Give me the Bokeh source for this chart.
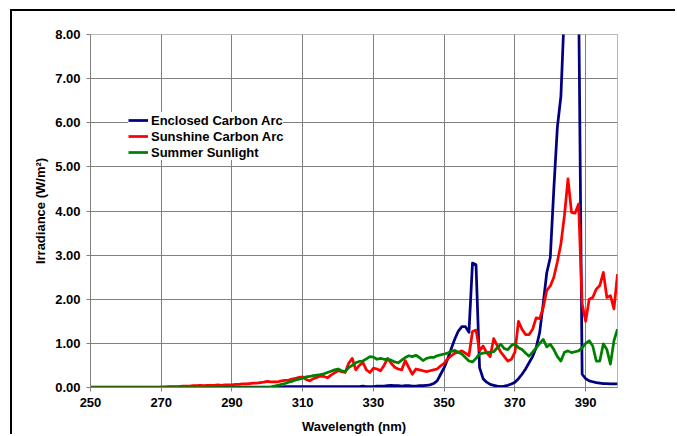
from bokeh.plotting import figure
from bokeh.models import FixedTicker, PrintfTickFormatter, Range1d, Legend, LegendItem
from bokeh.embed import file_html
from bokeh.resources import INLINE

# Spectral irradiance, W/m^2 per nm, 250-399 nm
wavelength = list(range(250, 400))

enclosed_carbon_arc = [
    0.01, 0.01, 0.01, 0.01, 0.01, 0.01, 0.01, 0.01, 0.01, 0.01,   # 250
    0.01, 0.01, 0.01, 0.01, 0.01, 0.01, 0.01, 0.01, 0.01, 0.01,   # 260
    0.01, 0.01, 0.01, 0.01, 0.01, 0.01, 0.01, 0.01, 0.01, 0.01,   # 270
    0.01, 0.01, 0.01, 0.01, 0.01, 0.01, 0.01, 0.01, 0.01, 0.01,   # 280
    0.01, 0.01, 0.01, 0.01, 0.01, 0.01, 0.01, 0.01, 0.01, 0.01,   # 290
    0.01, 0.01, 0.01, 0.01, 0.01, 0.02, 0.02, 0.02, 0.02, 0.02,   # 300
    0.02, 0.02, 0.02, 0.02, 0.02, 0.02, 0.02, 0.02, 0.02, 0.02,   # 310
    0.02, 0.02, 0.02, 0.02, 0.02, 0.02, 0.02, 0.03, 0.02, 0.02,   # 320
    0.02, 0.03, 0.03, 0.03, 0.04, 0.05, 0.04, 0.04, 0.03, 0.04,   # 330
    0.04, 0.03, 0.03, 0.04, 0.04, 0.05, 0.06, 0.09, 0.15, 0.30,   # 340
    0.45, 0.65, 0.88, 1.10, 1.28, 1.38, 1.38, 1.25, 2.82, 2.78,   # 350
    0.45, 0.20, 0.12, 0.07, 0.05, 0.03, 0.02, 0.03, 0.05, 0.08,   # 360
    0.12, 0.20, 0.30, 0.42, 0.56, 0.70, 0.90, 1.25, 1.90, 2.60,   # 370
    2.95, 4.50, 5.90, 6.60, 8.60, 10.5, 12.0, 11.0, 9.00, 0.30,   # 380
    0.20, 0.15, 0.13, 0.11, 0.10, 0.09, 0.09, 0.08, 0.08, 0.08,   # 390
]

sunshine_carbon_arc = [
    0.00, 0.00, 0.00, 0.00, 0.00, 0.00, 0.00, 0.00, 0.00, 0.00,   # 250
    0.00, 0.00, 0.00, 0.00, 0.00, 0.00, 0.00, 0.00, 0.00, 0.00,   # 260
    0.01, 0.01, 0.02, 0.02, 0.02, 0.02, 0.03, 0.03, 0.03, 0.04,   # 270
    0.04, 0.05, 0.04, 0.05, 0.05, 0.05, 0.06, 0.05, 0.06, 0.06,   # 280
    0.06, 0.07, 0.07, 0.08, 0.08, 0.09, 0.10, 0.10, 0.11, 0.12,   # 290
    0.14, 0.13, 0.13, 0.13, 0.15, 0.16, 0.17, 0.19, 0.21, 0.23,   # 300
    0.24, 0.18, 0.15, 0.20, 0.23, 0.26, 0.25, 0.22, 0.28, 0.33,   # 310
    0.38, 0.36, 0.34, 0.55, 0.66, 0.40, 0.50, 0.57, 0.40, 0.34,   # 320
    0.44, 0.42, 0.38, 0.50, 0.66, 0.55, 0.46, 0.42, 0.40, 0.61,   # 330
    0.45, 0.30, 0.42, 0.40, 0.38, 0.36, 0.38, 0.40, 0.42, 0.49,   # 340
    0.55, 0.65, 0.72, 0.78, 0.80, 0.83, 0.78, 0.72, 1.27, 1.30,   # 350
    0.83, 0.94, 0.79, 0.70, 1.11, 0.95, 0.80, 0.70, 0.60, 0.64,   # 360
    0.80, 1.50, 1.32, 1.20, 1.20, 1.32, 1.58, 1.56, 1.81, 2.20,   # 370
    2.30, 2.50, 2.85, 3.25, 3.90, 4.73, 3.97, 3.95, 4.16, 1.90,   # 380
    1.50, 2.00, 2.04, 2.23, 2.31, 2.61, 2.04, 2.08, 1.78, 2.57,   # 390
]

summer_sunlight = [
    0.00, 0.00, 0.00, 0.00, 0.00, 0.00, 0.00, 0.00, 0.00, 0.00,   # 250
    0.00, 0.00, 0.00, 0.00, 0.00, 0.00, 0.00, 0.00, 0.00, 0.00,   # 260
    0.00, 0.00, 0.00, 0.00, 0.00, 0.00, 0.00, 0.00, 0.00, 0.00,   # 270
    0.00, 0.00, 0.00, 0.00, 0.00, 0.00, 0.00, 0.00, 0.00, 0.00,   # 280
    0.00, 0.00, 0.00, 0.00, 0.00, 0.00, 0.00, 0.00, 0.00, 0.00,   # 290
    0.00, 0.01, 0.03, 0.05, 0.07, 0.09, 0.12, 0.14, 0.17, 0.19,   # 300
    0.21, 0.24, 0.25, 0.27, 0.28, 0.29, 0.31, 0.34, 0.37, 0.40,   # 310
    0.42, 0.38, 0.36, 0.45, 0.50, 0.56, 0.59, 0.60, 0.65, 0.70,   # 320
    0.69, 0.64, 0.66, 0.64, 0.64, 0.62, 0.58, 0.56, 0.62, 0.68,   # 330
    0.72, 0.70, 0.73, 0.68, 0.61, 0.66, 0.68, 0.68, 0.72, 0.74,   # 340
    0.76, 0.78, 0.82, 0.84, 0.80, 0.76, 0.68, 0.60, 0.58, 0.66,   # 350
    0.76, 0.78, 0.79, 0.80, 0.81, 0.90, 0.98, 0.88, 0.86, 0.95,   # 360
    0.99, 0.90, 0.86, 0.78, 0.71, 0.80, 0.90, 1.00, 1.09, 0.92,   # 370
    0.98, 0.86, 0.70, 0.60, 0.80, 0.83, 0.79, 0.81, 0.83, 0.90,   # 380
    1.00, 1.06, 0.94, 0.60, 0.60, 0.99, 0.86, 0.53, 1.06, 1.32,   # 390
]

series_names = ["Enclosed Carbon Arc", "Sunshine Carbon Arc", "Summer Sunlight"]
series_colors = ["#000080", "#FF0000", "#008000"]

x_ticks = [250, 270, 290, 310, 330, 350, 370, 390]
y_ticks = [0, 1, 2, 3, 4, 5, 6, 7, 8]

FONT = "Liberation Sans"
GRID = "#808080"

p = figure(
    width=665, height=425,
    output_backend="svg", toolbar_location=None,
    x_range=Range1d(250, 399), y_range=Range1d(0, 8),
    min_border_left=78, min_border_top=23,
    min_border_right=60, min_border_bottom=49,
    background_fill_color="white", border_fill_color="white",
    outline_line_color="#b8b8b8",
)

# outer chart frame (left and top edges show in the window)
p.styles = {
    "margin-left": "10px", "margin-top": "9px",
    "border-left": "2px solid #000", "border-top": "2px solid #000",
}

renderers = []
for values, color in zip([enclosed_carbon_arc, sunshine_carbon_arc, summer_sunlight], series_colors):
    r = p.line(wavelength, values, line_color=color, line_width=2.75, line_join="round")
    renderers.append(r)

# grid
p.xgrid.ticker = FixedTicker(ticks=x_ticks)
p.ygrid.ticker = FixedTicker(ticks=y_ticks)
for g in (p.xgrid[0], p.ygrid[0]):
    g.grid_line_color = GRID
    g.grid_line_width = 1

# axes
p.xaxis.ticker = FixedTicker(ticks=x_ticks)
p.yaxis.ticker = FixedTicker(ticks=y_ticks)
p.yaxis.formatter = PrintfTickFormatter(format="%.2f")
p.xaxis.axis_label = "Wavelength (nm)"
p.yaxis.axis_label = "Irradiance (W/m\u00b2)"
for ax in (p.xaxis[0], p.yaxis[0]):
    ax.axis_line_color = GRID
    ax.major_tick_line_color = GRID
    ax.major_tick_out = 4
    ax.major_tick_in = 0
    ax.minor_tick_line_color = None
    ax.major_label_text_font = FONT
    ax.major_label_text_font_style = "bold"
    ax.major_label_text_font_size = "13px"
    ax.major_label_text_color = "black"
    ax.axis_label_text_font = FONT
    ax.axis_label_text_font_style = "bold"
    ax.axis_label_text_font_size = "13px"
    ax.axis_label_text_color = "black"
p.xaxis.major_label_standoff = 6
p.xaxis.axis_label_standoff = 9
p.yaxis.major_label_standoff = 6
p.yaxis.axis_label_standoff = 4

legend = Legend(
    items=[LegendItem(label=n, renderers=[r]) for n, r in zip(series_names, renderers)],
    location=(38, 227),
    border_line_color=None,
    background_fill_color="white", background_fill_alpha=1.0,
    label_text_font=FONT, label_text_font_style="bold",
    label_text_font_size="13px", label_text_color="black",
    glyph_width=20, glyph_height=16, label_height=16,
    label_standoff=3, spacing=0, padding=4, margin=0,
)
p.add_layout(legend)

open("out.html", "w").write(file_html(p, INLINE))
